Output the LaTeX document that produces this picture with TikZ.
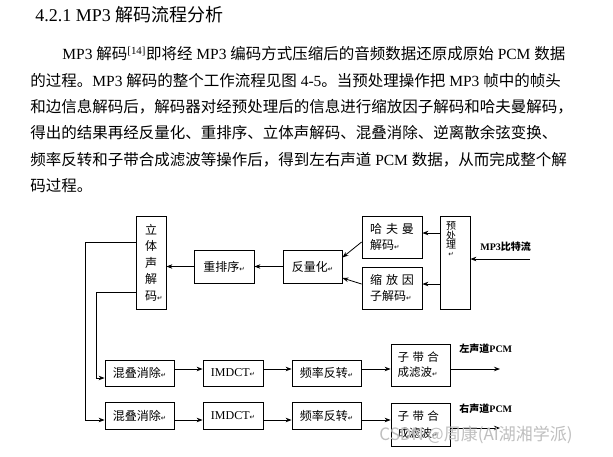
\documentclass[tikz,border=0pt]{standalone}
\usepackage{fontspec}
\setmainfont{Noto Sans CJK SC}
\newfontfamily\latf{Liberation Serif}
\newfontfamily\symf{DejaVu Sans}
\usetikzlibrary{arrows.meta}
\XeTeXlinebreaklocale "zh"
\XeTeXlinebreakskip=0pt plus 3pt
\newcommand\rmk{{\symf\fontsize{6.5}{6.5}\selectfont ↵}}
\newcommand\lat[1]{{\latf #1}}
\begin{document}
\begin{tikzpicture}[x=1pt,y=-1pt,line width=0.8pt,
  box/.style={draw, inner sep=0pt, font=\fontsize{12}{14}\selectfont, align=center},
  twoline/.style={box, text width=#1, align=left, font=\fontsize{12}{16}\selectfont},
  arr/.style={-{Stealth[length=6pt,width=4.5pt]}},
  para/.style={anchor=west, inner sep=0pt, text width=#1, align=justify, font=\fontsize{15.5}{18}\selectfont},
  lab/.style={font=\fontsize{10}{12}\selectfont\bfseries, inner sep=0pt}]
\useasboundingbox (0,0) rectangle (613,456);
\fill[white] (0,0) rectangle (613,456);

% ---- text ----
\node[anchor=west, inner sep=0pt, font=\fontsize{18}{20}\selectfont] (title) at (35,15) {\lat{4.2.1 MP3 }解码流程分析};
\node[para=516pt] (p1) at (62,54) {\tolerance=10000 \parfillskip=0pt\relax \lat{MP3 }解码\textsuperscript{\lat{[14]}}即将经\lat{ MP3 }编码方式压缩后的音频数据还原成原始\lat{ PCM }数据};
\node[para=548pt] (p2) at (30,81) {\tolerance=10000 \parfillskip=0pt\relax 的过程。\lat{MP3 }解码的整个工作流程见图\lat{ 4-5}。当预处理操作把\lat{ MP3 }帧中的帧头};
\node[para=548pt] (p3) at (30,107) {\tolerance=10000 \parfillskip=0pt\relax 和边信息解码后，解码器对经预处理后的信息进行缩放因子解码和哈夫曼解码，};
\node[para=548pt] (p4) at (30,133) {\tolerance=10000 \parfillskip=0pt\relax 得出的结果再经反量化、重排序、立体声解码、混叠消除、逆离散余弦变换、};
\node[para=548pt] (p5) at (30,160) {\tolerance=10000 \parfillskip=0pt\relax 频率反转和子带合成滤波等操作后，得到左右声道\lat{ PCM }数据，从而完成整个解};
\node[anchor=west, inner sep=0pt, font=\fontsize{15.5}{18}\selectfont] (p6) at (30,186) {码过程。};

% ---- upper blocks ----
\node[box, minimum width=30pt, minimum height=93pt, font=\fontsize{12}{16.5}\selectfont] (S) at (151,262.5) {立\\体\\声\\解\\码\rlap{\rmk}};
\node[box, minimum width=60pt, minimum height=33pt] (R) at (224,266.5) {重排序\rmk};
\node[box, minimum width=59pt, minimum height=33pt] (Q) at (312.5,266.5) {反量化\rmk};
\node[twoline=44pt, minimum width=60pt, minimum height=42pt] (H) at (392,237) {哈\hspace{4pt}夫\hspace{4pt}曼\\解码\rmk};
\node[twoline=44pt, minimum width=60pt, minimum height=42pt] (F) at (392,288) {缩\hspace{4pt}放\hspace{4pt}因\\子解码\rmk};
\node[draw, inner sep=0pt, minimum width=30pt, minimum height=93pt] (P) at (455,262.5) {};
\node[inner sep=0pt, align=center, font=\fontsize{10}{9}\selectfont] (Ptext) at (451,239) {预\\处\\理\\[-1pt]{\symf\fontsize{6.5}{6.5}\selectfont ↵}};
\node[lab, anchor=west] (mp3lab) at (480,247) {\lat{MP3}比特流};
\coordinate (mp3in) at (530,259);

% ---- lower rows ----
\node[box, minimum width=69pt, minimum height=26pt] (A1) at (139.5,373) {混叠消除\rmk};
\node[box, minimum width=60pt, minimum height=26pt] (I1) at (233,373) {\lat{IMDCT}\rmk};
\node[box, minimum width=69pt, minimum height=26pt] (V1) at (326.5,373) {频率反转\rmk};
\node[twoline=46pt, minimum width=59pt, minimum height=42pt, font=\fontsize{11.5}{15}\selectfont] (Z1) at (420.5,365) {子\hspace{3.5pt}带\hspace{3.5pt}合\\成滤波\rmk};
\node[box, minimum width=69pt, minimum height=27pt] (A2) at (139.5,415.5) {混叠消除\rmk};
\node[box, minimum width=60pt, minimum height=27pt] (I2) at (233,415.5) {\lat{IMDCT}\rmk};
\node[box, minimum width=69pt, minimum height=27pt] (V2) at (326.5,415.5) {频率反转\rmk};
\node[twoline=46pt, minimum width=59pt, minimum height=43pt, font=\fontsize{11.5}{17}\selectfont] (Z2) at (420.5,424.5) {子\hspace{3.5pt}带\hspace{3.5pt}合\\成滤波\rmk};
\node[lab, anchor=west] (Llab) at (459,349) {左声道\lat{PCM}};
\node[lab, anchor=west] (Rlab) at (459,409) {右声道\lat{PCM}};
\coordinate (Lout) at (500,369);
\coordinate (Rout) at (500,428);
\coordinate (bus1) at (96,378);
\coordinate (bus2) at (85,420);

% ---- connectors ----
\draw[arr] (mp3in) -- (mp3in -| P.east);
\draw[arr] (P.west |- H.east) ++(0,-4) coordinate (t1) -- (t1 -| H.east);
\draw[arr] (P.west |- F.east) ++(0,-4) coordinate (t2) -- (t2 -| F.east);
\draw[arr] ([yshift=-5pt]H.west) -- ([yshift=9pt]Q.east);
\draw[arr] ([yshift=4pt]F.west) -- ([yshift=-11.5pt]Q.east);
\draw[arr] (Q.west) -- (R.east);
\draw[arr] (R.west) -- (R.west -| S.east);
\draw[arr] ([yshift=20.5pt]S.west) -| (bus2) -- ([yshift=-4.5pt]A2.west);
\draw[arr] ([yshift=-29.5pt]S.west) -| (bus1) -- ([yshift=-5pt]A1.west);
\draw[arr] ([yshift=4pt]A1.east) -- ([yshift=4pt]I1.west);
\draw[arr] ([yshift=4pt]I1.east) -- ([yshift=4pt]V1.west);
\draw[arr] ([yshift=4pt]V1.east) -- ([yshift=-4pt]Z1.west);
\draw[arr] ([yshift=-4pt]Z1.east) -- (Lout);
\draw[arr] ([yshift=-4.5pt]A2.east) -- ([yshift=-4.5pt]I2.west);
\draw[arr] ([yshift=-4.5pt]I2.east) -- ([yshift=-4.5pt]V2.west);
\draw[arr] ([yshift=-4.5pt]V2.east) -- ([yshift=4.5pt]Z2.west);
\draw[arr] ([yshift=-3.5pt]Z2.east) -- (Rout);

% ---- watermark ----
\node[anchor=west, inner sep=0pt, text=black!25, font=\fontsize{17}{17}\selectfont] (wm) at (379,435) {CSDN @周康(AI湖湘学派)};
\end{tikzpicture}
\end{document}
